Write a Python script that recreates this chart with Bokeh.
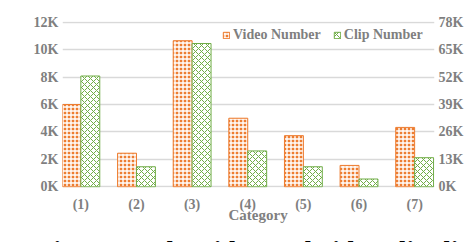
from bokeh.plotting import figure
from bokeh.models import (Range1d, LinearAxis, FixedTicker, Legend, LegendItem, Title, Div)
from bokeh.layouts import column
from bokeh.embed import file_html
from bokeh.resources import INLINE

categories = ["(1)", "(2)", "(3)", "(4)", "(5)", "(6)", "(7)"]
video_number = [6000, 2450, 10650, 5000, 3730, 1560, 4330]
clip_number = [52500, 9500, 67900, 17000, 9500, 3700, 13800]
left_ticks = [0, 2000, 4000, 6000, 8000, 10000, 12000]
left_labels = ["0K", "2K", "4K", "6K", "8K", "10K", "12K"]
right_ticks = [0, 13000, 26000, 39000, 52000, 65000, 78000]
right_labels = ["0K", "13K", "26K", "39K", "52K", "65K", "78K"]
x_title = "Category"
caption = "Figure 2: The video and video clip distribution"

ORANGE = "#ED7D31"
GREEN = "#70AD47"
GREY = "#7f7f7f"
FONT = "Liberation Serif"

xs = list(range(1, len(categories) + 1))
bw = 0.34
x_video = [x - bw / 2 for x in xs]
x_clip = [x + bw / 2 for x in xs]

scale = 6.5
p = figure(width=466, height=228, output_backend="svg", toolbar_location=None,
           x_range=Range1d(0.67, 7.357), y_range=Range1d(-50, 12050),
           min_border_left=62, min_border_right=29, min_border_top=21, min_border_bottom=41)
p.extra_y_ranges = {"clips": Range1d(-50 * scale, 12050 * scale)}
p.outline_line_color = None

r1 = p.vbar(x=x_video, top=video_number, width=bw, fill_color=ORANGE, line_color=ORANGE,
            line_width=1, hatch_pattern="+", hatch_color="white", hatch_scale=4, hatch_weight=1.4)
r2 = p.vbar(x=x_clip, top=clip_number, width=bw, y_range_name="clips", fill_color="white",
            line_color=GREEN, line_width=1, hatch_pattern="x", hatch_color=GREEN,
            hatch_scale=6, hatch_weight=1)

p.xgrid.grid_line_color = None
p.ygrid.grid_line_color = "#d9d9d9"
p.ygrid.grid_line_width = 1.3
p.ygrid.ticker = FixedTicker(ticks=left_ticks)

ya = p.yaxis[0]
ya.ticker = FixedTicker(ticks=left_ticks)
ya.major_label_overrides = {t: l for t, l in zip(left_ticks, left_labels)}

ra = LinearAxis(y_range_name="clips", ticker=FixedTicker(ticks=right_ticks),
                major_label_overrides={t: l for t, l in zip(right_ticks, right_labels)})
p.add_layout(ra, "right")

xa = p.xaxis[0]
xa.ticker = FixedTicker(ticks=xs)
xa.major_label_overrides = {x: c for x, c in zip(xs, categories)}

for ax in [ya, ra, xa]:
    ax.axis_line_color = None
    ax.major_tick_line_color = None
    ax.minor_tick_line_color = None
    ax.major_tick_out = 0
    ax.major_tick_in = 0
    ax.major_label_text_font = FONT
    ax.major_label_text_font_style = "bold"
    ax.major_label_text_color = GREY
    ax.major_label_text_font_size = "14px"
    ax.major_label_standoff = 4
xa.major_label_standoff = 9

p.add_layout(Title(text=x_title, align="left", offset=166, standoff=-14.8,
                   vertical_align="top",
                   text_font=FONT, text_font_style="bold", text_color=GREY,
                   text_font_size="15px"), "below")

legend = Legend(items=[LegendItem(label="Video Number", renderers=[r1]),
                       LegendItem(label="Clip Number", renderers=[r2])],
                orientation="horizontal", location=(160, 144),
                label_text_font=FONT, label_text_font_style="bold",
                label_text_color=GREY, label_text_font_size="14px",
                glyph_width=8, glyph_height=8, label_standoff=3, spacing=12,
                padding=0, margin=0, border_line_color=None,
                background_fill_alpha=0, label_height=14)
p.add_layout(legend, "center")

# strip with the top of the paper's caption, cut by the picture's lower edge
cap_html = ('<div style="position:relative; left:32px; top:5px; white-space:nowrap; '
            'font-family:\'Liberation Serif\'; font-weight:bold; font-size:27px; '
            'line-height:27px; color:black;">' + caption + '</div>')
cap = Div(text=cap_html, width=466, height=14, styles={"overflow": "hidden"})

open("out.html", "w").write(file_html(column(p, cap, spacing=0), INLINE))
